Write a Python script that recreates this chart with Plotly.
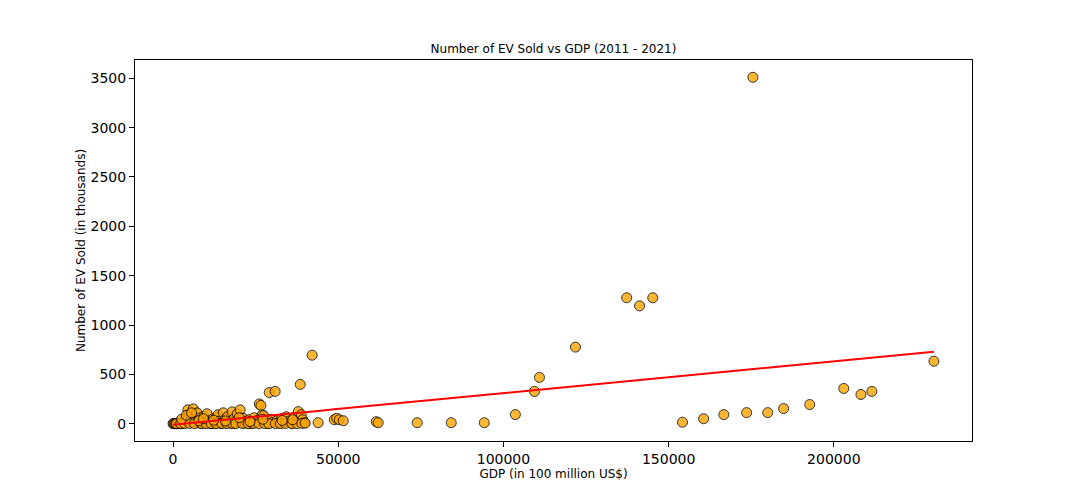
import numpy as np
import plotly.graph_objects as go

# GDP (in 100 million US$) and EV sold (in thousands)
gdp = [
    0, 200, 500, 800, 1200, 1500, 1800, 2100, 2500, 2800, 3000, 3300, 3600, 3900, 4200, 4500,
    4800, 5200, 5500, 5800, 6100, 6400, 6700, 7000, 7300, 7600, 8000, 8300, 8700, 9000, 9400, 9800,
    10300, 10700, 11000, 11400, 11800, 12100, 12500, 12900, 13300, 13600, 14000, 14500, 15200, 15600,
    16000, 16500, 17000, 17500, 17900, 18300, 18800, 19400, 19800,
    20300, 20700, 21200, 21600, 22000, 22500, 23000, 23500, 24000, 24500, 25000, 25500, 26100, 26600,
    27000, 27400, 28000, 28500, 29100, 29500, 30000, 30900,
    31500, 32000, 32800, 33500, 34200, 35000, 35800, 36500, 37200, 37900, 38500, 38800, 39200, 39800,
    1000, 2300, 3500, 5000, 6500, 8500, 10000, 11600, 13000, 14800, 16300, 18000, 19000, 21000,
    22800, 24200, 26000, 27700, 29000, 31000, 32500, 34000, 36000, 37500, 39000, 40000,
    2600, 4000, 5600, 7800, 9200, 12300, 15900, 20000, 23300, 27200, 33000, 36200,
    42100, 43900, 48800, 49500, 50300, 51500, 61500, 62100, 73900, 84200, 94200, 103600, 109400,
    110900, 121800, 137300, 141200, 145200, 175500, 154200, 160600, 166700, 173600, 180000, 184800,
    192700, 203000, 208200, 211500, 230300,
]
ev_sold = [
    0, 2, 0, 1, 3, 0, 5, 2, 8, 1, 12, 25, 40, 60, 30, 140,
    90, 15, 70, 45, 150, 20, 55, 100, 110, 8, 35, 60, 4, 20, 75, 12,
    100, 5, 30, 15, 2, 50, 20, 8, 65, 90, 25, 3, 110, 40,
    10, 70, 18, 5, 120, 45, 12, 100, 30,
    140, 15, 55, 5, 25, 8, 40, 3, 18, 60, 10, 35, 200, 185,
    90, 80, 20, 5, 316, 45, 12, 327,
    30, 8, 50, 15, 70, 25, 5, 60, 20, 122, 398, 92, 40, 10,
    0, 0, 1, 2, 0, 1, 0, 1, 0, 2, 0, 1, 0, 2,
    0, 1, 0, 2, 0, 1, 0, 2, 0, 1, 3, 5,
    45, 85, 110, 30, 50, 35, 28, 60, 22, 45, 33, 40,
    694, 10, 40, 55, 40, 30, 20, 10, 10, 10, 10, 92, 327,
    469, 776, 1276, 1194, 1276, 3510, 15, 50, 92, 112, 112, 153,
    194, 357, 296, 327, 633,
]

x = np.array(gdp, dtype=float)
y = np.array(ev_sold, dtype=float)
m, b = np.polyfit(x, y, 1)

fig = go.Figure()
fig.add_trace(go.Scatter(
    x=x, y=y, mode="markers",
    marker=dict(size=10, color="orange", opacity=0.8, line=dict(color="black", width=1)),
))
fig.add_trace(go.Scatter(
    x=x, y=m * x + b, mode="lines",
    line=dict(color="red", width=2),
))

pad_x = 0.05 * (x.max() - x.min())
pad_y = 0.05 * (y.max() - y.min())

axis_style = dict(
    showline=True, linecolor="black", linewidth=1, mirror=True,
    ticks="outside", ticklen=5, tickcolor="black", showgrid=False, zeroline=False,
    tickfont=dict(size=14, color="black"),
)

fig.update_layout(
    width=1080, height=504,
    margin=dict(l=127, r=116, t=52, b=71),
    paper_bgcolor="white", plot_bgcolor="white",
    font=dict(family="DejaVu Sans", color="black"),
    showlegend=False,
    title=dict(text="Number of EV Sold vs GDP (2011 - 2021)", font=dict(size=12),
               x=0.5, xref="paper", xanchor="center", y=1 - 41 / 504, yref="container", yanchor="middle"),
    xaxis=dict(range=[x.min() - pad_x, x.max() + pad_x], tickvals=[0, 50000, 100000, 150000, 200000],
               ticktext=["0", "50000", "100000", "150000", "200000"],
               title=dict(text="GDP (in 100 million US$)", font=dict(size=12), standoff=1), **axis_style),
    yaxis=dict(range=[y.min() - pad_y, y.max() + pad_y], tickvals=list(range(0, 3501, 500)),
               title=dict(text="Number of EV Sold (in thousands)", font=dict(size=12), standoff=2), **axis_style),
)

fig.write_html("out.html")
